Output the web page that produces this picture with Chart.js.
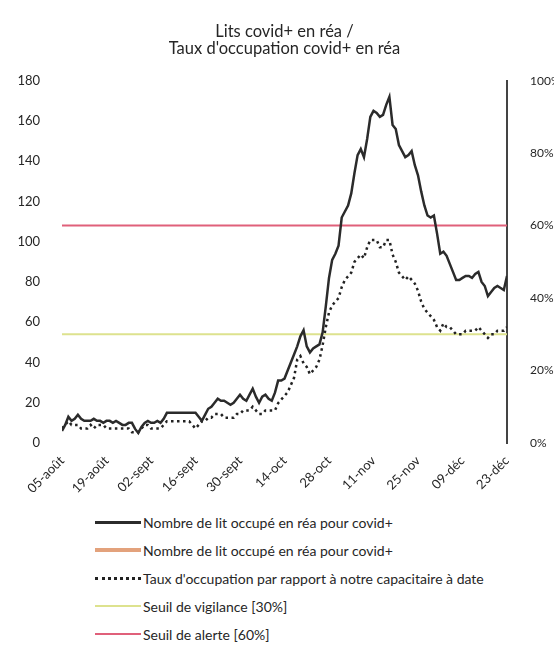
<!DOCTYPE html>
<html lang="fr">
<head>
<meta charset="UTF-8">
<title>Lits covid+ en réa</title>
<script src="https://cdn.jsdelivr.net/npm/chart.js"></script>
<style>
  body { margin: 0; background: #fff; font-family: Lato, sans-serif; color: #262626; }
  .wrap { position: relative; width: 554px; height: 505px; }
  #legend { position: absolute; left: 95px; top: 508px; }
  .item { display: flex; align-items: center; height: 28px; font-size: 14px; color: #262626; }
  .swatch { width: 46px; margin-right: 2px; }
</style>
</head>
<body>
<div class="wrap"><canvas id="reaChart"></canvas></div>
<div id="legend"></div>

<script>
// one value per day, 05-août -> 23-déc
const tickLabels = ['05-août', '19-août', '02-sept', '16-sept', '30-sept', '14-oct',
                    '28-oct', '11-nov', '25-nov', '09-déc', '23-déc'];
const daysPerTick = 14;

// beds occupied by covid+ patients in ICU
const beds = [
  6, 9, 13, 11, 12, 14, 12, 11, 11, 11,
  12, 11, 11, 10, 11, 11, 10, 11, 10, 9,
  9, 10, 10, 7, 5, 8, 10, 11, 10, 10,
  11, 10, 12, 15, 15, 15, 15, 15, 15, 15,
  15, 15, 15, 13, 11, 14, 17, 18, 20, 22,
  21, 21, 20, 19, 20, 22, 24, 22, 21, 24,
  27, 23, 20, 23, 24, 22, 21, 25, 31, 31,
  32, 36, 40, 44, 48, 53, 56, 48, 45, 47,
  48, 49, 55, 68, 82, 91, 94, 98, 112, 115,
  118, 124, 134, 143, 146, 142, 151, 162, 165, 164,
  162, 163, 168, 172, 158, 156, 148, 145, 142, 143,
  145, 138, 133, 125, 118, 113, 112, 113, 104, 94,
  95, 93, 89, 85, 81, 81, 82, 83, 83, 82,
  84, 85, 80, 78, 73, 75, 77, 78, 77, 76,
  83
];

// occupancy rate (%) against capacity at date
const rate = [
  4, 5, 6, 5, 5, 5, 4, 4, 4, 5,
  4, 5, 5, 5, 4, 4, 4, 4, 4, 4,
  4, 4, 3, 3, 3, 4, 5, 5, 4, 4,
  4, 4, 5, 6, 6, 6, 6, 6, 6, 6,
  6, 5, 4, 5, 6, 6, 7, 7, 8, 8,
  8, 7, 7, 7, 7, 8, 8, 9, 9, 9,
  10, 9, 8, 8, 9, 9, 9, 9, 11, 12,
  13, 14, 16, 18, 23, 24, 22, 21, 19, 20,
  21, 23, 27, 32, 36, 38, 39, 40, 43, 45,
  46, 47, 50, 51, 52, 51, 54, 56, 56, 56,
  54, 54, 56, 56, 52, 50, 47, 46, 45, 46,
  45, 44, 42, 39, 37, 36, 35, 34, 32, 31,
  33, 32, 32, 31, 30, 30, 30, 31, 31, 31,
  31, 32, 31, 30, 29, 30, 30, 31, 31, 31,
  32
];

const vigilanceLevel = 30;
const alertLevel = 60;
const lastDay = (tickLabels.length - 1) * daysPerTick;

const toPoints = arr => arr.map((v, i) => ({ x: i, y: v }));
const flatLine = level => [{ x: 0, y: level }, { x: lastDay, y: level }];

const tickFont = { family: 'Lato', size: 13 };

const chart = new Chart(document.getElementById('reaChart'), {
  type: 'line',
  data: {
    datasets: [
      { label: 'Nombre de lit occupé en réa pour covid+', data: toPoints(beds), yAxisID: 'y',
        borderColor: '#2b2b2b', borderWidth: 2.5 },
      { label: 'Nombre de lit occupé en réa pour covid+', data: [], yAxisID: 'y',
        borderColor: '#e3a27c', borderWidth: 4 },
      { label: "Taux d'occupation par rapport à notre capacitaire à date", data: toPoints(rate), yAxisID: 'y1',
        borderColor: '#222', borderWidth: 2.5, borderDash: [2.5, 3.5] },
      { label: 'Seuil de vigilance [30%]', data: flatLine(vigilanceLevel), yAxisID: 'y1',
        borderColor: '#dde28e', borderWidth: 2 },
      { label: 'Seuil de alerte [60%]', data: flatLine(alertLevel), yAxisID: 'y1',
        borderColor: '#e0607a', borderWidth: 2 }
    ]
  },
  options: {
    responsive: true,
    maintainAspectRatio: false,
    animation: false,
    elements: { point: { radius: 0 }, line: { tension: 0 } },
    plugins: {
      legend: { display: false },
      tooltip: { enabled: false },
      title: {
        display: true,
        fullSize: false,
        text: ['Lits covid+ en réa /', "Taux d'occupation covid+ en réa"],
        color: '#262626',
        font: { family: 'Lato', size: 16.5, weight: 'normal', lineHeight: 1.05 },
        padding: { top: 23, bottom: 23 }
      }
    },
    scales: {
      x: {
        type: 'linear', min: 0, max: lastDay,
        grid: { display: false }, border: { display: false },
        ticks: {
          stepSize: daysPerTick, autoSkip: false, maxRotation: 45, minRotation: 45, padding: 2,
          color: '#262626', font: tickFont,
          callback: v => tickLabels[Math.round(v / daysPerTick)]
        },
        afterFit: s => { s.height = 62; }
      },
      y: {
        position: 'left', min: 0, max: 180,
        grid: { display: false }, border: { display: false },
        ticks: { stepSize: 20, padding: 14, color: '#262626', font: tickFont },
        afterFit: s => { s.width = 62; }
      },
      y1: {
        position: 'right', min: 0, max: 100,
        grid: { display: false },
        border: { display: true, color: '#444', width: 2 },
        ticks: { stepSize: 20, padding: 15, color: '#262626', font: { family: 'Lato', size: 12 },
                 callback: v => v + '%' },
        afterFit: s => { s.width = 47; }
      }
    }
  }
});

// legend as a single column below the chart
const legend = document.getElementById('legend');
chart.data.datasets.forEach(ds => {
  const row = document.createElement('div');
  row.className = 'item';
  const sw = document.createElement('span');
  sw.className = 'swatch';
  const w = Math.round(ds.borderWidth);
  sw.style.borderTop = w + 'px ' + (ds.borderDash ? 'dotted ' : 'solid ') + ds.borderColor;
  row.appendChild(sw);
  row.appendChild(document.createTextNode(ds.label));
  legend.appendChild(row);
});
</script>
</body>
</html>
